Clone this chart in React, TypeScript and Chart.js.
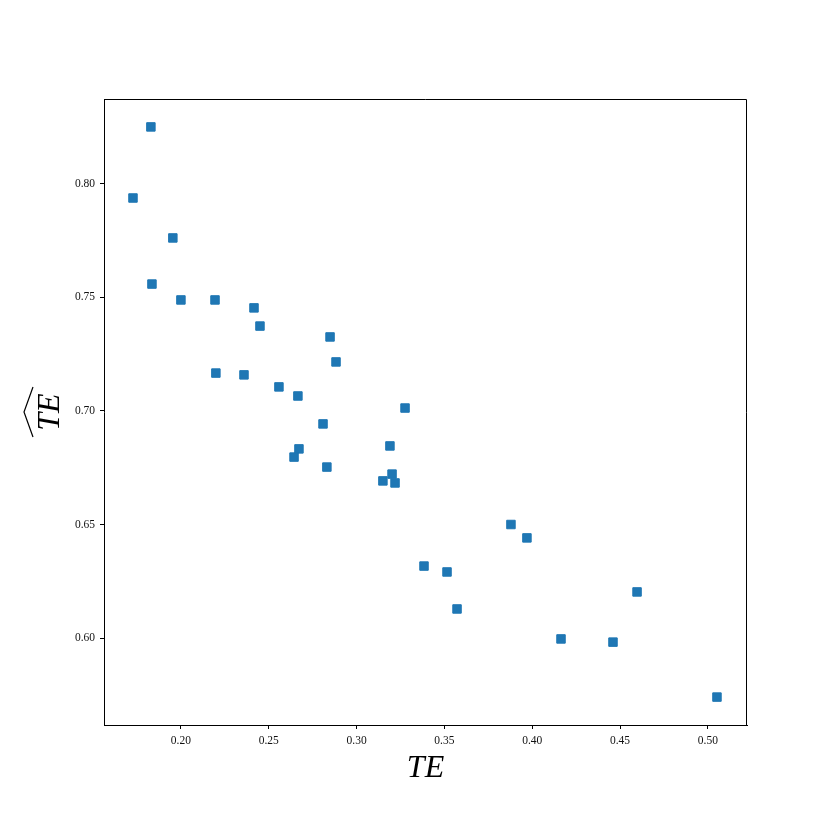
import React, { useEffect, useRef } from "react";
import { Chart, registerables } from "chart.js";

Chart.register(...registerables);

const xValues = [0.1829, 0.1727, 0.1954, 0.1835, 0.2000, 0.2194, 0.2416, 0.2450, 0.2849, 0.2883, 0.2199, 0.2359, 0.2558, 0.2666, 0.3276, 0.2809, 0.3190, 0.2672, 0.2644, 0.2831, 0.3202, 0.3150, 0.3219, 0.3879, 0.3970, 0.3384, 0.3515, 0.3572, 0.4597, 0.4164, 0.4460, 0.5052];
const yValues = [0.8251, 0.7938, 0.7762, 0.7559, 0.7489, 0.7489, 0.7454, 0.7374, 0.7326, 0.7216, 0.7167, 0.7159, 0.7106, 0.7066, 0.7013, 0.6943, 0.6846, 0.6833, 0.6797, 0.6753, 0.6722, 0.6692, 0.6683, 0.6500, 0.6441, 0.6317, 0.6291, 0.6128, 0.6203, 0.5996, 0.5982, 0.5740];
const xTicks = [0.2, 0.25, 0.3, 0.35, 0.4, 0.45, 0.5];
const yTicks = [0.6, 0.65, 0.7, 0.75, 0.8];
const xLabel = "TE";
const yLabel = "TE";

const framePlugin = {
  id: "frame",
  afterDraw(chart: any) {
    const { ctx, chartArea } = chart;
    const { left, right, top, bottom } = chartArea;
    ctx.save();
    ctx.strokeStyle = "#000";
    ctx.lineWidth = 1;
    ctx.beginPath();
    ctx.moveTo(left, top + 0.5);
    ctx.lineTo(right - 0.5, top + 0.5);
    ctx.lineTo(right - 0.5, bottom);
    ctx.stroke();
    // x label
    ctx.fillStyle = "#000";
    ctx.font = "italic 32px 'Liberation Serif', serif";
    ctx.textAlign = "center";
    ctx.textBaseline = "alphabetic";
    ctx.fillText(xLabel, (left + right) / 2, 777);
    // y label rotated
    ctx.translate(59, (top + bottom) / 2);
    ctx.rotate(-Math.PI / 2);
    ctx.fillText(yLabel, 0, 0);
    // wide hat
    ctx.beginPath();
    ctx.lineWidth = 1.2;
    ctx.moveTo(-25, -26);
    ctx.lineTo(0, -35);
    ctx.lineTo(25, -26);
    ctx.stroke();
    ctx.restore();
  },
};

export default function App() {
  const ref = useRef<HTMLCanvasElement>(null);
  useEffect(() => {
    document.body.style.margin = "0";
    const data = xValues.map((x, i) => ({ x, y: yValues[i] }));
    const chart = new Chart(ref.current!, {
      type: "scatter",
      data: {
        datasets: [
          {
            data,
            pointStyle: "rect",
            pointRadius: 6,
            pointHoverRadius: 6,
            backgroundColor: "#1f77b4",
            borderColor: "#1f77b4",
            borderWidth: 1,
          },
        ],
      },
      options: {
        animation: false,
        responsive: false,
        events: [],
        layout: { padding: { left: 0, top: 99, right: 83, bottom: 0 } },
        plugins: { legend: { display: false }, tooltip: { enabled: false } },
        scales: {
          x: {
            type: "linear",
            min: 0.1562,
            max: 0.5223,
            afterBuildTicks: (s: any) => {
              s.ticks = xTicks.map((v) => ({ value: v }));
            },
            afterFit: (s: any) => {
              s.height = 105;
            },
            grid: { drawOnChartArea: false, drawTicks: true, tickLength: 4, color: "#000" },
            border: { display: true, color: "#000" },
            ticks: {
              color: "#111",
              font: { family: "'Liberation Serif', serif", size: 11.5 },
              padding: 5,
              maxRotation: 0,
              callback: (v: any) => Number(v).toFixed(2),
            },
          },
          y: {
            type: "linear",
            min: 0.5617,
            max: 0.8374,
            afterBuildTicks: (s: any) => {
              s.ticks = yTicks.map((v) => ({ value: v }));
            },
            afterFit: (s: any) => {
              s.width = 104;
            },
            grid: { drawOnChartArea: false, drawTicks: true, tickLength: 4, color: "#000" },
            border: { display: true, color: "#000" },
            ticks: {
              color: "#111",
              font: { family: "'Liberation Serif', serif", size: 11.5 },
              padding: 5,
              callback: (v: any) => Number(v).toFixed(2),
            },
          },
        },
      },
      plugins: [framePlugin],
    });
    return () => chart.destroy();
  }, []);
  return (
    <div style={{ width: 830, height: 830 }}>
      <canvas ref={ref} width={830} height={830} style={{ width: 830, height: 830, display: "block" }} />
    </div>
  );
}
